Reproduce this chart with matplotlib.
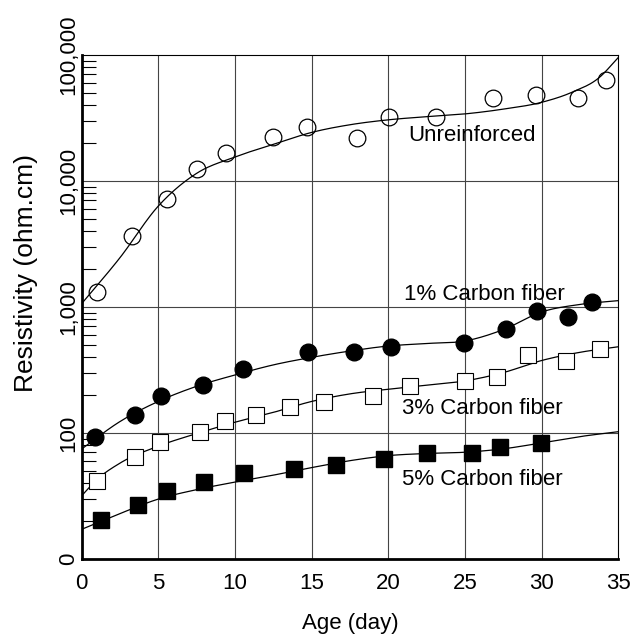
import numpy as np
import matplotlib
matplotlib.use("Agg")
import matplotlib.pyplot as plt
from matplotlib.ticker import LogLocator, NullFormatter, FixedLocator, FixedFormatter

plt.rcParams['font.family'] = ['Liberation Sans', 'DejaVu Sans']

# ---- data ----
unr_day = [0.98, 3.28, 5.6, 7.5, 9.43, 12.47, 14.68, 17.93, 20.04, 23.11, 26.86, 29.63, 32.34, 34.2]
unr_val = [1320, 3650, 7190, 12400, 16700, 22400, 26900, 21900, 31900, 32300, 45800, 48200, 45300, 63100]

c1_day = [0.90, 3.48, 5.16, 7.90, 10.54, 14.79, 17.77, 20.21, 24.95, 27.70, 29.70, 31.72, 33.30]
c1_val = [92.4, 139, 197, 239, 320, 441, 441, 478, 513, 674, 937, 838, 1090]

c3_day = [1.0, 3.5, 5.14, 7.7, 9.33, 11.38, 13.59, 15.84, 19.00, 21.44, 24.97, 27.06, 29.1, 31.58, 33.8]
c3_val = [41.8, 64.5, 84.2, 102.5, 125, 139, 161, 177, 195, 234, 259, 280, 413, 371, 463]

c5_day = [1.28, 3.68, 5.6, 7.97, 10.6, 13.87, 16.58, 19.74, 22.53, 25.47, 27.31, 29.94]
c5_val = [20.4, 26.8, 34.8, 41.0, 48.0, 52.0, 55.9, 62.4, 69.1, 69.0, 78.0, 83.4]

# fitted trend lines (log10 of resistivity)
unr_fit_day = [0, 2.5, 5, 7.5, 10, 12.5, 15, 17.5, 20, 22.5, 25, 27.5, 30, 32, 33.75, 35]
unr_fit_log = [3.025, 3.39, 3.80, 4.06, 4.19, 4.29, 4.385, 4.446, 4.485, 4.51, 4.532, 4.57, 4.624, 4.705, 4.82, 4.98]

c1_fit_day = [0, 2.5, 5, 7.5, 10, 12.5, 15, 17.5, 20, 22.5, 25, 27.5, 30, 32.5, 35]
c1_fit_log = [1.872, 2.09, 2.25, 2.37, 2.46, 2.54, 2.60, 2.65, 2.69, 2.71, 2.73, 2.82, 2.96, 3.02, 3.05]

c3_fit_day = [0, 1, 2.5, 5, 7.5, 10, 12.5, 15, 17.5, 20, 22.5, 25, 27.5, 30, 32.5, 35]
c3_fit_log = [1.50, 1.63, 1.76, 1.895, 1.995, 2.085, 2.163, 2.25, 2.31, 2.347, 2.379, 2.413, 2.479, 2.575, 2.64, 2.684]

c5_fit_day = [0, 2.5, 5, 7.5, 10, 12.5, 15, 17.5, 20, 22.5, 25, 27.5, 30, 32.5, 35]
c5_fit_log = [1.235, 1.36, 1.475, 1.55, 1.61, 1.665, 1.725, 1.78, 1.82, 1.837, 1.847, 1.874, 1.921, 1.971, 2.01]

y_ticks = [10, 100, 1000, 10000, 100000]
y_tick_labels = ['0', '100', '1,000', '10,000', '100,000']
x_ticks = [0, 5, 10, 15, 20, 25, 30, 35]

series_labels = ['Unreinforced', '1% Carbon fiber', '3% Carbon fiber', '5% Carbon fiber']
label_day = [21.3, 21.0, 20.9, 20.9]
label_val = [22900, 1259, 157, 42.6]


def hermite(xk, yk, num=400):
    xk = np.asarray(xk, float)
    yk = np.asarray(yk, float)
    m = np.gradient(yk, xk)
    xs = np.linspace(xk[0], xk[-1], num)
    idx = np.clip(np.searchsorted(xk, xs) - 1, 0, len(xk) - 2)
    h = xk[idx + 1] - xk[idx]
    t = (xs - xk[idx]) / h
    h00 = 2 * t**3 - 3 * t**2 + 1
    h10 = t**3 - 2 * t**2 + t
    h01 = -2 * t**3 + 3 * t**2
    h11 = t**3 - t**2
    ys = h00 * yk[idx] + h10 * h * m[idx] + h01 * yk[idx + 1] + h11 * h * m[idx + 1]
    return xs, ys


fig = plt.figure(figsize=(6.37, 6.41), dpi=100)
ax = fig.add_axes([0.128, 0.128, 0.8427, 0.7863])
ax.set_yscale('log')
ax.set_xlim(0, 35)
ax.set_ylim(10, 100000)

# grid
for xv in x_ticks[1:-1]:
    ax.axvline(xv, color='#444444', lw=0.8, zorder=1)
for yv in y_ticks[1:-1]:
    ax.axhline(yv, color='#444444', lw=0.8, zorder=1)

# trend lines
for fd, fl in [(unr_fit_day, unr_fit_log), (c1_fit_day, c1_fit_log),
               (c3_fit_day, c3_fit_log), (c5_fit_day, c5_fit_log)]:
    xs, ys = hermite(fd, fl)
    ax.plot(xs, 10 ** ys, color='black', lw=0.9, zorder=2)

ms = 12
ax.plot(unr_day, unr_val, 'o', ms=ms, mfc='none', mec='black', mew=0.9, zorder=3, clip_on=False)
ax.plot(c1_day, c1_val, 'o', ms=ms, mfc='black', mec='black', zorder=3, clip_on=False)
ax.plot(c3_day, c3_val, 's', ms=ms, mfc='white', mec='black', mew=0.8, zorder=3, clip_on=False)
ax.plot(c5_day, c5_val, 's', ms=ms, mfc='black', mec='black', zorder=3, clip_on=False)

for lab, xd, yv in zip(series_labels, label_day, label_val):
    ax.text(xd, yv, lab, fontsize=16, ha='left', va='center', zorder=4)

# ticks
ax.xaxis.set_major_locator(FixedLocator(x_ticks))
ax.set_xticklabels([str(v) for v in x_ticks])
ax.yaxis.set_major_locator(FixedLocator(y_ticks))
ax.yaxis.set_major_formatter(FixedFormatter(y_tick_labels))
ax.yaxis.set_minor_locator(LogLocator(base=10, subs=np.arange(2, 10)))
ax.yaxis.set_minor_formatter(NullFormatter())
ax.xaxis.set_minor_locator(FixedLocator([]))
ax.tick_params(axis='both', which='major', length=0, labelsize=16)
ax.tick_params(axis='x', which='major', pad=10)
ax.tick_params(axis='y', which='major', pad=2)
for lbl in ax.get_yticklabels():
    lbl.set_rotation(90)
    lbl.set_va('center')
ax.tick_params(axis='y', which='minor', direction='in', length=10, width=0.8, left=True, right=False)

for s in ['left', 'bottom']:
    ax.spines[s].set_linewidth(2.0)
for s in ['top', 'right']:
    ax.spines[s].set_linewidth(0.8)

ax.set_xlabel('Age (day)', fontsize=16, labelpad=14)
ax.set_ylabel('Resistivity (ohm.cm)', fontsize=19)
ax.yaxis.set_label_coords(-0.081, 0.567)

fig.savefig('out.png', dpi=100)
